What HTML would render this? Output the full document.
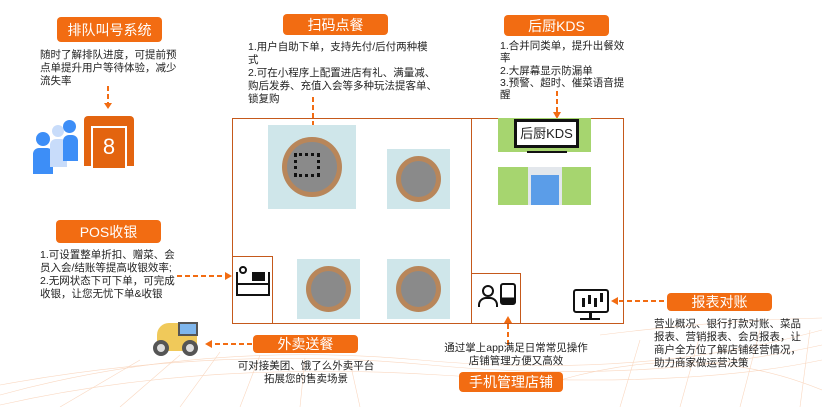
<!DOCTYPE html>
<html><head><meta charset="utf-8"><style>
*{margin:0;padding:0;box-sizing:border-box}
body{width:822px;height:407px;position:relative;overflow:hidden;background:#fff;font-family:"Liberation Sans","Noto Sans CJK SC",sans-serif;color:#222}
.a{position:absolute}
.lbl{position:absolute;background:#f26c12;color:#fff;border-radius:4px;text-align:center;font-size:14px;display:flex;align-items:center;justify-content:center}
.t{position:absolute;font-size:10.5px;line-height:13px;color:#222;white-space:nowrap}
.b{position:absolute;border:1.5px solid #c5591b}
.tbl{position:absolute;background:#cfe6ea}
.tbl:after{content:"";position:absolute;left:22%;top:20%;width:56%;height:60%;border-radius:50%;background:#8a8a8a;box-shadow:0 0 0 5px #b8865a}
</style></head><body>
<svg class="a" style="left:0;top:0" width="822" height="407">
<g stroke="#f7c7a6" stroke-width="0.6" fill="none" opacity="0.7">
<path d="M0 395 Q200 340 420 360 T822 330"/><path d="M0 385 Q220 345 430 365 T822 345"/><path d="M0 405 Q200 360 440 375 T822 360"/><path d="M600 335 Q720 320 822 318"/><path d="M560 380 Q700 340 822 390"/>
<path d="M60 407 L140 360"/><path d="M120 407 L180 355"/><path d="M180 407 L220 352"/><path d="M240 407 L260 355"/><path d="M300 407 L305 358"/><path d="M360 407 L350 362"/><path d="M620 407 L640 340"/><path d="M680 407 L700 335"/><path d="M740 407 L760 330"/><path d="M800 407 L810 330"/>
</g>
<g stroke="#f26c12" stroke-width="2" stroke-dasharray="5,3" fill="none">
<line x1="108" y1="86" x2="108" y2="104"/>
<line x1="313" y1="97" x2="313" y2="132"/>
<line x1="557" y1="91" x2="557" y2="113"/>
<line x1="177" y1="276" x2="225" y2="276"/>
<line x1="252" y1="344" x2="212" y2="344"/>
<line x1="508" y1="345" x2="508" y2="322"/>
<line x1="664" y1="301" x2="618" y2="301"/>
</g>
<g fill="#f26c12">
<polygon points="104,103 112,103 108,109"/><polygon points="309,131 317,131 313,138"/><polygon points="553,112 561,112 557,119"/>
<polygon points="225,272 225,280 232,276"/><polygon points="212,340 212,348 205,344"/><polygon points="504,323 512,323 508,316"/><polygon points="618,297 618,305 611,301"/>
</g>
</svg>
<div class="lbl" style="left:57px;top:17px;width:105px;height:25px">排队叫号系统</div>
<div class="lbl" style="left:283px;top:14px;width:105px;height:21px">扫码点餐</div>
<div class="lbl" style="left:504px;top:15px;width:105px;height:21px">后厨KDS</div>
<div class="lbl" style="left:56px;top:220px;width:105px;height:23px">POS收银</div>
<div class="lbl" style="left:253px;top:335px;width:105px;height:18px">外卖送餐</div>
<div class="lbl" style="left:459px;top:372px;width:104px;height:20px">手机管理店铺</div>
<div class="lbl" style="left:667px;top:293px;width:105px;height:18px">报表对账</div>
<div class="t" style="left:40px;top:49px">随时了解排队进度，可提前预<br>点单提升用户等待体验，减少<br>流失率</div>
<div class="t" style="left:248px;top:41px">1.用户自助下单，支持先付/后付两种模<br>式<br>2.可在小程序上配置进店有礼、满量减、<br>购后发券、充值入会等多种玩法提客单、<br>锁复购</div>
<div class="t" style="left:500px;top:40px;line-height:12.3px">1.合并同类单，提升出餐效<br>率<br>2.大屏幕显示防漏单<br>3.预警、超时、催菜语音提<br>醒</div>
<div class="t" style="left:40px;top:249px">1.可设置整单折扣、赠菜、会<br>员入会/结账等提高收银效率;<br>2.无网状态下可下单，可完成<br>收银，让您无忧下单&amp;收银</div>
<div class="t" style="left:236px;top:360px;width:140px;text-align:center">可对接美团、饿了么外卖平台<br>拓展您的售卖场景</div>
<div class="t" style="left:441px;top:342px;width:150px;text-align:center">通过掌上app满足日常常见操作<br>店铺管理方便又高效</div>
<div class="t" style="left:654px;top:318px">营业概况、银行打款对账、菜品<br>报表、营销报表、会员报表，让<br>商户全方位了解店铺经营情况，<br>助力商家做运营决策</div>
<div class="b" style="left:232px;top:118px;width:392px;height:206px"></div>
<div class="b" style="left:471px;top:118px;width:2px;height:206px;border-width:0 0 0 1.5px"></div>
<div class="b" style="left:232px;top:256px;width:41px;height:68px"></div>
<div class="b" style="left:471px;top:273px;width:50px;height:51px"></div>
<div class="tbl" style="left:268px;top:125px;width:88px;height:84px"></div>
<div class="a" style="left:294px;top:153px;width:26px;height:24px;border:3px dotted #111"></div>
<div class="tbl" style="left:387px;top:149px;width:63px;height:60px"></div>
<div class="tbl" style="left:297px;top:259px;width:63px;height:60px"></div>
<div class="tbl" style="left:387px;top:259px;width:63px;height:60px"></div>
<div class="a" style="left:498px;top:118px;width:93px;height:34px;background:#a6d56f"></div>
<div class="a" style="left:514px;top:119px;width:65px;height:29px;border:3px solid #111;background:#fff;font-size:13px;text-align:center;line-height:23px">后厨KDS</div>
<div class="a" style="left:527px;top:151px;width:40px;height:2px;background:#111"></div>
<div class="a" style="left:498px;top:167px;width:93px;height:38px;background:#a6d56f"></div>
<div class="a" style="left:528px;top:167px;width:34px;height:38px;background:#e3e7ec"></div>
<div class="a" style="left:531px;top:175px;width:28px;height:30px;background:#5b9de8"></div>
<div class="a" style="left:236px;top:272px;width:34px;height:24px;border:2px solid #111;border-top-width:0"></div>
<div class="a" style="left:236px;top:283px;width:34px;height:2px;background:#111"></div>
<div class="a" style="left:252px;top:272px;width:13px;height:9px;background:#111"></div>
<div class="a" style="left:239px;top:266px;width:8px;height:8px;border:2px solid #111;border-radius:50%"></div>
<div class="a" style="left:482px;top:285px;width:12px;height:12px;border:2px solid #111;border-radius:50%"></div>
<div class="a" style="left:478px;top:297px;width:20px;height:10px;border:2px solid #111;border-bottom:0;border-radius:8px 8px 0 0"></div>
<div class="a" style="left:500px;top:283px;width:16px;height:22px;border:2px solid #111;border-radius:3px;background:linear-gradient(#fff 70%,#111 70%)"></div>
<div class="a" style="left:573px;top:289px;width:36px;height:24px;border:2.5px solid #111;border-radius:3px"></div>
<div class="a" style="left:582px;top:298px;width:3px;height:9px;background:#111;box-shadow:6px -3px 0 #111,12px 0 0 #111,18px -5px 0 #111"></div>
<div class="a" style="left:589px;top:313px;width:3px;height:6px;background:#111"></div>
<div class="a" style="left:580px;top:318px;width:20px;height:2px;background:#111"></div>
<div class="a" style="left:84px;top:116px;width:50px;height:50px;background:#e3640f;border-radius:4px 4px 0 0"></div>
<div class="a" style="left:91px;top:126px;width:36px;height:42px;background:#e3640f;border:2px solid #fff;border-bottom:0;color:#fff;font-size:22px;text-align:center;line-height:38px">8</div>
<div class="a" style="left:36px;top:132px;width:14px;height:14px;border-radius:50%;background:#3d8ef7"></div>
<div class="a" style="left:33px;top:148px;width:20px;height:26px;border-radius:6px 6px 0 0;background:#3d8ef7"></div>
<div class="a" style="left:52px;top:125px;width:12px;height:12px;border-radius:50%;background:#c8dcfa"></div>
<div class="a" style="left:50px;top:139px;width:17px;height:28px;border-radius:6px 6px 0 0;background:#c8dcfa"></div>
<div class="a" style="left:63px;top:120px;width:13px;height:13px;border-radius:50%;background:#3d8ef7"></div>
<div class="a" style="left:63px;top:135px;width:15px;height:26px;border-radius:6px 6px 0 0;background:#3d8ef7"></div>
<div class="a" style="left:157px;top:323px;width:40px;height:28px;background:#f0c95a;border-radius:12px 8px 4px 4px"></div>
<div class="a" style="left:178px;top:322px;width:20px;height:14px;background:#7fb6ec;border:2px solid #555"></div>
<div class="a" style="left:153px;top:340px;width:16px;height:16px;border-radius:50%;background:#ddd;border:4px solid #555"></div>
<div class="a" style="left:182px;top:340px;width:16px;height:16px;border-radius:50%;background:#ddd;border:4px solid #555"></div>
</body></html>
